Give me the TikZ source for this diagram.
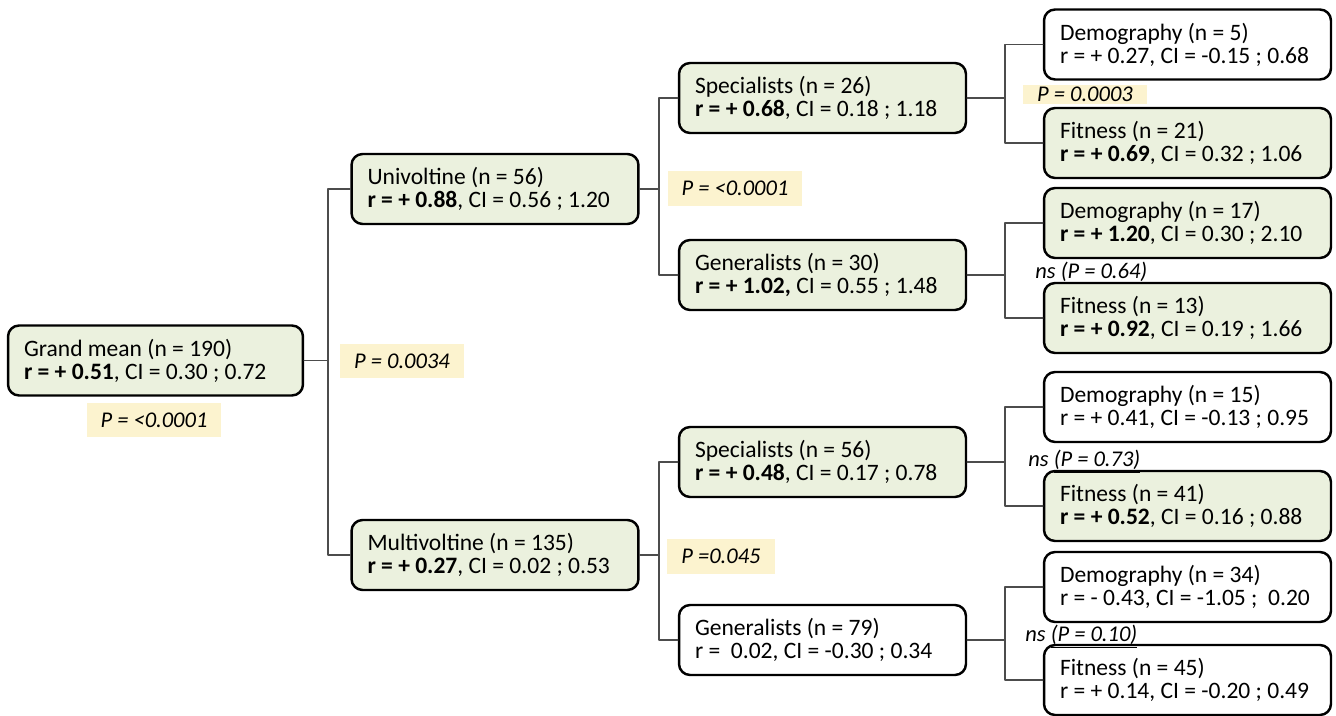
\documentclass[tikz,border=0pt]{standalone}
\usepackage{fontspec}
\setmainfont{Carlito}
\usetikzlibrary{arrows}
\definecolor{ebfbdd}{rgb}{0.92,0.945,0.87}
\definecolor{fdf3ce}{rgb}{0.99,0.953,0.81}
\definecolor{uququq}{rgb}{0.3,0.3,0.3}
\begin{document}
\begin{tikzpicture}[line cap=round,line join=round,x=0.02cm,y=-0.02cm,
	box/.style={draw=black,line width=1.4pt,rounded corners=0.22cm,align=flush left,text width=5.1cm,inner xsep=0.32cm,minimum height=1.4cm,font=\fontsize{13.4}{13.2}\selectfont},
	sig/.style={box,fill=ebfbdd},
	nsig/.style={box,fill=white},
	plab/.style={fill=fdf3ce,inner xsep=0.28cm,inner ysep=0.2cm,font=\fontsize{12.8}{12.7}\selectfont\itshape},
	nslab/.style={anchor=west,inner sep=0pt,font=\fontsize{12.8}{12.7}\selectfont\itshape},
	link/.style={color=uququq,line width=0.85pt}]
					\useasboundingbox (0,0) rectangle (1336,716);
					% boxes
					\node[sig,text width=5.26cm] (grand) at (155.5,360.5) {Grand mean (n = 190)\\\mbox{\textbf{r = + 0.51}, CI = 0.30 ; 0.72}};
					\node[sig] (uni) at (495,189) {Univoltine (n = 56)\\\mbox{\textbf{r = + 0.88}, CI = 0.56 ; 1.20}};
					\node[sig] (multi) at (495,555) {Multivoltine (n = 135)\\\mbox{\textbf{r = + 0.27}, CI = 0.02 ; 0.53}};
					\node[sig] (spec1) at (822.5,98) {Specialists (n = 26)\\\mbox{\textbf{r = + 0.68}, CI = 0.18 ; 1.18}};
					\node[sig] (gen1) at (822.5,275) {Generalists (n = 30)\\\mbox{\textbf{r = + 1.02,} CI = 0.55 ; 1.48}};
					\node[sig] (spec2) at (822.5,462) {Specialists (n = 56)\\\mbox{\textbf{r = + 0.48}, CI = 0.17 ; 0.78}};
					\node[nsig] (gen2) at (822.5,640) {Generalists (n = 79)\\\mbox{r = \ 0.02, CI = -0.30 ; 0.34}};
					\node[nsig] (demo1) at (1187.5,44.5) {Demography (n = 5)\\\mbox{r = + 0.27, CI = -0.15 ; 0.68}};
					\node[sig] (fit1) at (1187.5,143) {Fitness (n = 21)\\\mbox{\textbf{r = + 0.69}, CI = 0.32 ; 1.06}};
					\node[sig] (demo2) at (1187.5,223) {Demography (n = 17)\\\mbox{\textbf{r = + 1.20}, CI = 0.30 ; 2.10}};
					\node[sig] (fit2) at (1187.5,318) {Fitness (n = 13)\\\mbox{\textbf{r = + 0.92}, CI = 0.19 ; 1.66}};
					\node[nsig] (demo3) at (1187.5,407) {Demography (n = 15)\\\mbox{r = + 0.41, CI = -0.13 ; 0.95}};
					\node[sig] (fit3) at (1187.5,506) {Fitness (n = 41)\\\mbox{\textbf{r = + 0.52}, CI = 0.16 ; 0.88}};
					\node[nsig] (demo4) at (1187.5,587) {Demography (n = 34)\\\mbox{r = - 0.43, CI = -1.05 ; \ 0.20}};
					\node[nsig] (fit4) at (1187.5,680) {Fitness (n = 45)\\\mbox{r = + 0.14, CI = -0.20 ; 0.49}};
					% junctions
					\coordinate (j1) at (328,360.5);
					\coordinate (j2) at (659,189);
					\coordinate (j3) at (659,555);
					\coordinate (j4) at (1005,98);
					\coordinate (j5) at (1005,275);
					\coordinate (j6) at (1005,462);
					\coordinate (j7) at (1005,640);
					\draw[link] (grand.east) -- (j1);
					\draw[link] (uni.west) -| (j1) |- (multi.west);
					\draw[link] (uni.east) -- (j2);
					\draw[link] (spec1.west) -| (j2) |- (gen1.west);
					\draw[link] (multi.east) -- (j3);
					\draw[link] (spec2.west) -| (j3) |- (gen2.west);
					\draw[link] (spec1.east) -- (j4);
					\draw[link] (demo1.west) -| (j4) |- (fit1.west);
					\draw[link] (gen1.east) -- (j5);
					\draw[link] (demo2.west) -| (j5) |- (fit2.west);
					\draw[link] (spec2.east) -- (j6);
					\draw[link] (demo3.west) -| (j6) |- (fit3.west);
					\draw[link] (gen2.east) -- (j7);
					\draw[link] (demo4.west) -| (j7) |- (fit4.west);
					% P values
					\node[plab] (p0) at (154,420) {P = <0.0001};
					\node[plab] (p1) at (402,361) {P = 0.0034};
					\node[plab] (p2) at (735,188.5) {P = <0.0001};
					\node[plab] (p3) at (721,556.5) {P =0.045};
					\node[plab,inner ysep=0.04cm] (p4) at (1085,94.5) {P = 0.0003};
					\node[nslab] (ns1) at (1035,272) {ns (P = 0.64)};
					\node[nslab] (ns2) at (1028,462) {ns \underline{(P = 0.73)}};
					\node[nslab] (ns3) at (1025,637) {ns \underline{(P = 0.10)}};
					\end{tikzpicture}
\end{document}
